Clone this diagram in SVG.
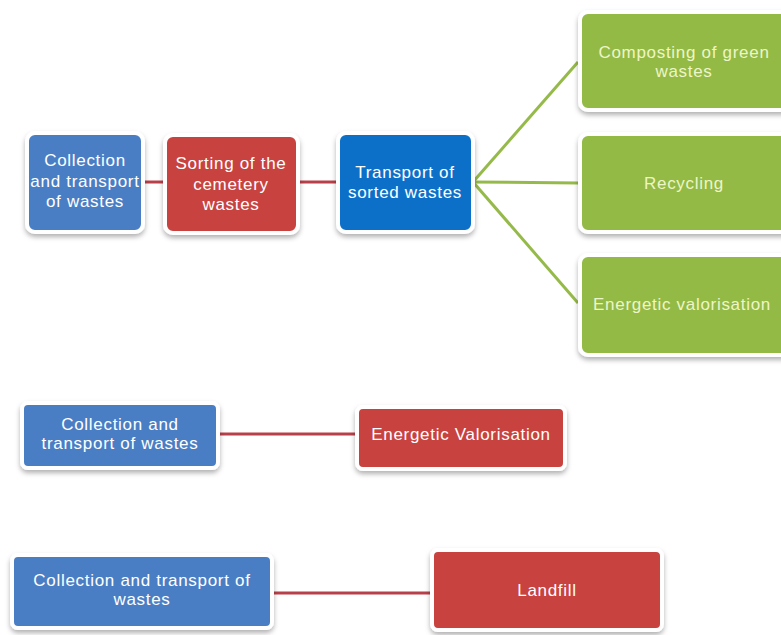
<svg xmlns="http://www.w3.org/2000/svg" width="781" height="635" viewBox="0 0 781 635">
<defs>
<filter id="sh" x="-10%" y="-10%" width="125%" height="130%">
<feDropShadow dx="0" dy="3" stdDeviation="2.5" flood-color="#000" flood-opacity="0.3"/>
</filter>
</defs>
<style>
.box{stroke:#fff;stroke-width:4;filter:url(#sh)}
.blue{fill:#4A7EC4}
.dblue{fill:#0A6FC8}
.red{fill:#C8423F}
.green{fill:#92BA45}
text{font-family:"Liberation Sans",Arial,sans-serif;font-size:17px;letter-spacing:0.7px;text-anchor:middle;fill:#fff}
.gt{fill:#EEF5C8}
.rl{stroke:#B8404A;stroke-width:3;fill:none}
.gl{stroke:#96BA4A;stroke-width:3;fill:none}
</style>
<rect width="781" height="635" fill="#fff"/>
<g id="connectors">
<line class="rl" x1="143" y1="182" x2="165" y2="182"/>
<line class="rl" x1="298" y1="182" x2="338" y2="182"/>
<line class="gl" x1="473" y1="182" x2="578" y2="62"/>
<line class="gl" x1="473" y1="182" x2="578" y2="183"/>
<line class="gl" x1="473" y1="182" x2="578" y2="303"/>
<line class="rl" x1="218" y1="434" x2="357" y2="434"/>
<line class="rl" x1="272" y1="593" x2="432" y2="593"/>
</g>
<g id="n1"><rect class="box blue" x="27" y="133" width="116" height="99" rx="8"/>
<text x="85" y="166">Collection</text><text x="85" y="187">and transport</text><text x="85" y="207">of wastes</text></g>
<g id="n2"><rect class="box red" x="165" y="135" width="133" height="98" rx="8"/>
<text x="231" y="169">Sorting of the</text><text x="231" y="190">cemetery</text><text x="231" y="210">wastes</text></g>
<g id="n3"><rect class="box dblue" x="338" y="133" width="135" height="99" rx="8"/>
<text x="405" y="178">Transport of</text><text x="405" y="198">sorted wastes</text></g>
<g id="g1"><rect class="box green" x="580" y="12" width="212" height="98" rx="8"/>
<text class="gt" x="684" y="58">Composting of green</text><text class="gt" x="684" y="77">wastes</text></g>
<g id="g2"><rect class="box green" x="580" y="134" width="212" height="98" rx="8"/>
<text class="gt" x="684" y="189">Recycling</text></g>
<g id="g3"><rect class="box green" x="580" y="255" width="212" height="100" rx="8"/>
<text class="gt" x="682" y="310">Energetic valorisation</text></g>
<g id="n4"><rect class="box blue" x="22" y="403" width="196" height="65" rx="6"/>
<text x="120" y="430">Collection and</text><text x="120" y="449">transport of wastes</text></g>
<g id="n5"><rect class="box red" x="357" y="407" width="208" height="62" rx="6"/>
<text x="461" y="440">Energetic Valorisation</text></g>
<g id="n6"><rect class="box blue" x="12" y="555" width="260" height="73" rx="6"/>
<text x="142" y="586">Collection and transport of</text><text x="142" y="605">wastes</text></g>
<g id="n7"><rect class="box red" x="432" y="550" width="230" height="80" rx="6"/>
<text x="547" y="596">Landfill</text></g>
</svg>
